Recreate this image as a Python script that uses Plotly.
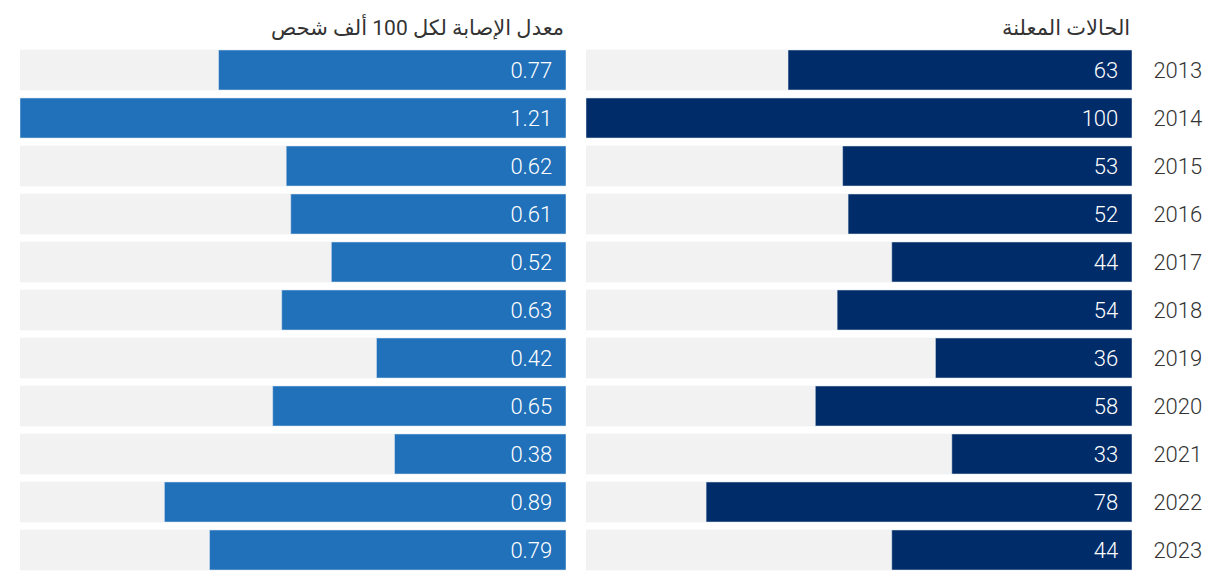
import plotly.graph_objects as go

years = ["2013", "2014", "2015", "2016", "2017", "2018", "2019", "2020", "2021", "2022", "2023"]
cases = [63, 100, 53, 52, 44, 54, 36, 58, 33, 78, 44]
rates = [0.77, 1.21, 0.62, 0.61, 0.52, 0.63, 0.42, 0.65, 0.38, 0.89, 0.79]
cases_title = "الحالات المعلنة"
rates_title = "معدل الإصابة لكل 100 ألف شحص"

NAVY = "#002C6A"
BLUE = "#2170BA"
GREY = "#F2F2F2"
TXT = "#333333"
FONT = "Roboto, Noto Sans, DejaVu Sans, sans-serif"
PAD = "\u00a0\u00a0"

cases_max = max(cases)
rates_max = max(rates)
order = years[::-1]

fig = go.Figure()
fig.add_trace(go.Bar(y=years, x=[rates_max] * len(years), orientation="h", marker_color=GREY,
                     xaxis="x", yaxis="y", hoverinfo="skip", showlegend=False))
fig.add_trace(go.Bar(y=years, x=rates, orientation="h", marker_color=BLUE,
                     xaxis="x", yaxis="y", showlegend=False,
                     text=[f"{v:.2f}{PAD}" for v in rates], textposition="inside",
                     insidetextanchor="start", textangle=0,
                     textfont=dict(color="white", size=22, family=FONT, weight=300)))
fig.add_trace(go.Bar(y=years, x=[cases_max] * len(years), orientation="h", marker_color=GREY,
                     xaxis="x2", yaxis="y2", hoverinfo="skip", showlegend=False))
fig.add_trace(go.Bar(y=years, x=cases, orientation="h", marker_color=NAVY,
                     xaxis="x2", yaxis="y2", showlegend=False,
                     text=[f"{v}{PAD}" for v in cases], textposition="inside",
                     insidetextanchor="start", textangle=0,
                     textfont=dict(color="white", size=22, family=FONT, weight=300)))

L_END = 546 / 1112
R_START = 566 / 1112
annotations = [
    dict(x=L_END, y=1, xref="paper", yref="paper", text=rates_title, showarrow=False,
         xanchor="right", yanchor="bottom", yshift=4, font=dict(color=TXT, size=21, family=FONT)),
    dict(x=1, y=1, xref="paper", yref="paper", text=cases_title, showarrow=False,
         xanchor="right", yanchor="bottom", yshift=4, font=dict(color=TXT, size=21, family=FONT)),
]

fig.update_layout(
    width=1220, height=580,
    margin=dict(l=12, r=96, t=38, b=14),
    paper_bgcolor="white", plot_bgcolor="white",
    barmode="overlay", bargap=8 / 48,
    font=dict(family=FONT, color=TXT, size=22),
    uniformtext=dict(mode=False),
    xaxis=dict(domain=[0, L_END], range=[rates_max, 0], showticklabels=False, showgrid=False,
               zeroline=False, showline=False, ticks=""),
    xaxis2=dict(domain=[R_START, 1], range=[cases_max, 0], showticklabels=False, showgrid=False,
                zeroline=False, showline=False, ticks=""),
    yaxis=dict(anchor="x", domain=[0, 1], type="category", categoryorder="array", categoryarray=order,
               showticklabels=False, showgrid=False, zeroline=False, showline=False),
    yaxis2=dict(anchor="x2", domain=[0, 1], type="category", categoryorder="array", categoryarray=order,
                side="right", showgrid=False, zeroline=False, showline=False,
                ticks="outside", ticklen=16, tickcolor="rgba(0,0,0,0)",
                tickfont=dict(size=22, color=TXT, family=FONT, weight=300)),
    annotations=annotations,
)

fig.write_html("out.html")
